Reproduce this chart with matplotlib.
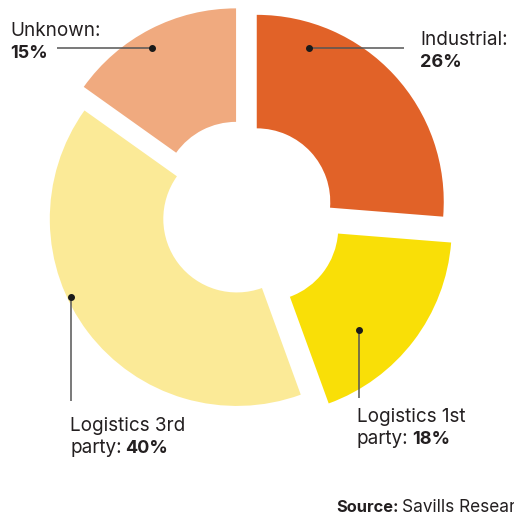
import math
import matplotlib
matplotlib.use("Agg")
import matplotlib.pyplot as plt

# ---- data ----
categories = ["Industrial", "Logistics 1st party", "Logistics 3rd party", "Unknown"]
shares = [26, 18, 40, 15]
colors = ["#E16228", "#F9DF07", "#FBEA97", "#F0AA7F"]
label_line1 = ["Industrial:", "Logistics 1st", "Logistics 3rd", "Unknown:"]
label_prefix2 = ["", "party: ", "party: ", ""]
label_value = ["26%", "18%", "40%", "15%"]
source_bold = "Source:"
source_text = " Savills Research"

# ---- layout (pixel-like units, y up) ----
W, H = 514, 515
FONT = "Inter"
fig = plt.figure(figsize=(W / 100, H / 100), dpi=100)
ax = fig.add_axes([0, 0, 1, 1])

R_out = 187
ring = 113.5
center = (245, H - 212.7)
explode = [16, 24.8, 10.3, 19.5]

wedges, _ = ax.pie(shares, colors=colors, startangle=90, counterclock=False,
                   radius=R_out, center=center, explode=explode,
                   wedgeprops=dict(width=ring, linewidth=0))
ax.set_xlim(0, W)
ax.set_ylim(0, H)
ax.set_aspect("equal")
ax.axis("off")

# leader dot positions (angle in degrees, fraction of radius) relative to each wedge
dot_polar = [(71.3, 0.87), (-47.3, 0.747), (205.1, 0.98), (119.7, 0.907)]
# leader line end points and text anchors (pixel coords from top-left)
line_end = [("h", 404), ("v", 397.7), ("v", 401), ("h", 57)]
text_pos = [(420, 45), (357, 422.3), (70, 430.7), (10, 36)]
line_gap = 22.0

txt_color = "#231F20"
fs = 13.6
fs_b = 13.0

for w, (ang, fr), (kind, end), (tx, ty), l1, p2, v in zip(
        wedges, dot_polar, line_end, text_pos, label_line1, label_prefix2, label_value):
    cx, cy = w.center
    a = math.radians(ang)
    dx = cx + fr * R_out * math.cos(a)
    dy = cy + fr * R_out * math.sin(a)
    if kind == "h":
        ax.plot([dx, end], [dy, dy], color="#555555", lw=1.1, solid_capstyle="butt", zorder=3)
    else:
        ax.plot([dx, dx], [dy, H - end], color="#555555", lw=1.1, solid_capstyle="butt", zorder=3)
    ax.plot([dx], [dy], "o", color="#1a1a1a", ms=4, zorder=4)
    ax.text(tx, H - ty, l1, fontsize=fs, family=FONT, color=txt_color,
            ha="left", va="baseline")
    y2 = H - ty - line_gap
    x2 = tx
    if p2:
        t = ax.text(tx, y2, p2.rstrip(), fontsize=fs, family=FONT, color=txt_color,
                    ha="left", va="baseline")
        fig.canvas.draw()
        bb = t.get_window_extent()
        x2 = ax.transData.inverted().transform((bb.x1, bb.y0))[0] + 4
    ax.text(x2, y2, v, fontsize=fs_b, family=FONT, weight="bold", color=txt_color,
            ha="left", va="baseline")

# source
sx, sy = 336, 512
t = ax.text(sx, H - sy, source_bold, fontsize=11.8, family=FONT, weight="bold",
            color=txt_color, ha="left", va="baseline")
fig.canvas.draw()
bb = t.get_window_extent()
x_end = ax.transData.inverted().transform((bb.x1, bb.y0))[0] + 4
ax.text(x_end, H - sy, source_text.strip(), fontsize=12.4, family=FONT,
        color=txt_color, ha="left", va="baseline")

fig.savefig("out.png", dpi=100)
